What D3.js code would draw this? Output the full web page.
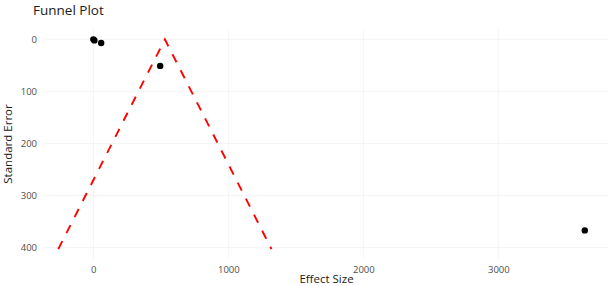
<!DOCTYPE html>
<html>
<head>
<meta charset="utf-8">
<script src="https://cdn.jsdelivr.net/npm/d3@7"></script>
<style>
  body { margin: 0; background: #fff; }
  text { font-family: "Open Sans", sans-serif; }
</style>
</head>
<body>
<div id="wrapper"></div>
<script>
// study estimates
const effectSize = [0, 8, 58, 495, 3640]
const standardError = [0, 2, 7, 51, 367]
const pooledEffect = 530
const funnelSeMax = 403
const xTicks = [0, 1000, 2000, 3000]
const yTicks = [0, 100, 200, 300, 400]

function drawFunnelPlot() {
  let dimensions = {
    width: 615,
    height: 286,
    margin: { top: 30, right: 7, bottom: 28, left: 45 }
  }
  dimensions.boundedWidth = dimensions.width - dimensions.margin.left - dimensions.margin.right
  dimensions.boundedHeight = dimensions.height - dimensions.margin.top - dimensions.margin.bottom

  const wrapper = d3.select("#wrapper")
    .append("svg")
      .attr("width", dimensions.width)
      .attr("height", dimensions.height)

  const bounds = wrapper.append("g")
    .attr("transform", `translate(${dimensions.margin.left}, ${dimensions.margin.top})`)

  const xScale = d3.scaleLinear()
    .domain([-358, 3812])
    .range([0, dimensions.boundedWidth])

  const yScale = d3.scaleLinear()
    .domain([-18, 420])
    .range([0, dimensions.boundedHeight])

  // grid
  bounds.append("g").selectAll("line")
    .data(yTicks)
    .enter().append("line")
      .attr("x1", 0)
      .attr("x2", dimensions.boundedWidth)
      .attr("y1", d => yScale(d))
      .attr("y2", d => yScale(d))
      .attr("stroke", "#efefef")
      .attr("stroke-width", 0.7)

  bounds.append("g").selectAll("line")
    .data(xTicks)
    .enter().append("line")
      .attr("x1", d => xScale(d))
      .attr("x2", d => xScale(d))
      .attr("y1", 0)
      .attr("y2", dimensions.boundedHeight)
      .attr("stroke", "#efefef")
      .attr("stroke-width", 0.7)

  // funnel
  const funnel = [
    [pooledEffect - 1.96 * funnelSeMax, funnelSeMax],
    [pooledEffect, 0],
    [pooledEffect + 1.96 * funnelSeMax, funnelSeMax]
  ]
  const lineGenerator = d3.line()
    .x(d => xScale(d[0]))
    .y(d => yScale(d[1]))

  bounds.append("path")
    .attr("d", lineGenerator(funnel))
    .attr("fill", "none")
    .attr("stroke", "#ff0000")
    .attr("stroke-width", 1.9)
    .attr("stroke-dasharray", "9,9")

  // studies
  bounds.append("g").selectAll("circle")
    .data(effectSize)
    .enter().append("circle")
      .attr("cx", d => xScale(d))
      .attr("cy", (d, i) => yScale(standardError[i]))
      .attr("r", 3.2)
      .attr("fill", "#000")

  // axes
  const xAxis = bounds.append("g")
    .attr("transform", `translate(0, ${dimensions.boundedHeight})`)
    .call(d3.axisBottom(xScale).tickValues(xTicks).tickFormat(d3.format("d")).tickSize(0).tickPadding(8))
  const yAxis = bounds.append("g")
    .call(d3.axisLeft(yScale).tickValues(yTicks).tickFormat(d3.format("d")).tickSize(0).tickPadding(8))

  ;[xAxis, yAxis].forEach(axis => {
    axis.select(".domain").remove()
    axis.selectAll("text")
      .attr("fill", "#4d4d4d")
      .style("font-size", "9.5px")
  })

  wrapper.append("text")
    .attr("x", dimensions.margin.left + dimensions.boundedWidth / 2)
    .attr("y", 283)
    .attr("text-anchor", "middle")
    .attr("fill", "#1a1a1a")
    .style("font-size", "11.5px")
    .text("Effect Size")

  wrapper.append("text")
    .attr("transform", `translate(12, ${dimensions.margin.top + dimensions.boundedHeight / 2}) rotate(-90)`)
    .attr("text-anchor", "middle")
    .attr("fill", "#1a1a1a")
    .style("font-size", "11.5px")
    .text("Standard Error")

  wrapper.append("text")
    .attr("x", 33)
    .attr("y", 15)
    .attr("fill", "#1a1a1a")
    .style("font-size", "13.5px")
    .text("Funnel Plot")
}

drawFunnelPlot()
</script>
</body>
</html>
